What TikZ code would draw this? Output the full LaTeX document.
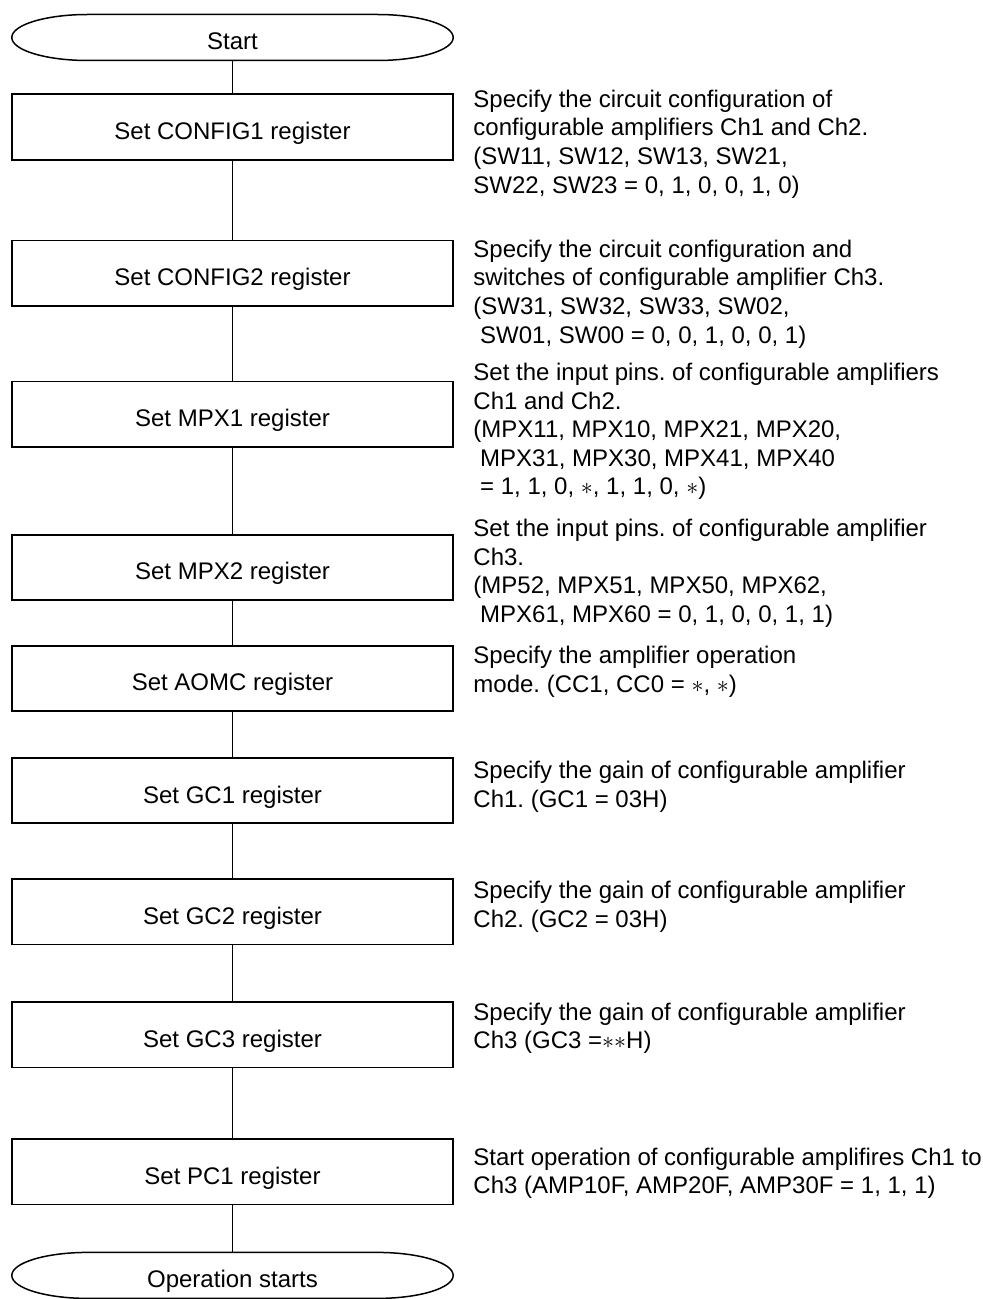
\documentclass[tikz,border=0pt]{standalone}
\usepackage{fontspec}
\setmainfont{Liberation Sans}
\usetikzlibrary{positioning}

\newcommand{\ind}{\hspace*{0.28em}}
\frenchspacing

\begin{document}
\begin{tikzpicture}[
    every node/.style={font=\fontsize{12pt}{14.3pt}\selectfont},
    regbox/.style={rectangle, draw=black, line width=0.85pt, minimum width=220.7pt, minimum height=32.7pt, text height=12.5pt, text depth=0pt},
    term/.style={rectangle, outer sep=0pt, minimum width=220.7pt, minimum height=23pt, text height=12.5pt, text depth=0pt},
    termline/.style={line width=0.75pt},
    note/.style={align=left, inner sep=0pt, anchor=north west},
    link/.style={line width=0.65pt}
]
\useasboundingbox (0,0) rectangle (491.5pt,-649.5pt);

\node[term] (start) at (116.25pt,-18.75pt) {Start};
\node[regbox, below=16.5pt of start] (cfg1) {Set CONFIG1 register};
\node[regbox, below=39.5pt of cfg1] (cfg2) {Set CONFIG2 register};
\node[regbox, below=37pt of cfg2] (mpx1) {Set MPX1 register};
\node[regbox, below=43pt of mpx1] (mpx2) {Set MPX2 register};
\node[regbox, below=22pt of mpx2] (aomc) {Set AOMC register};
\node[regbox, below=22.5pt of aomc] (gc1) {Set GC1 register};
\node[regbox, below=27pt of gc1] (gc2) {Set GC2 register};
\node[regbox, below=28pt of gc2] (gc3) {Set GC3 register};
\node[regbox, below=35pt of gc3] (pc1) {Set PC1 register};
\node[term, below=23.5pt of pc1] (stop) {Operation starts};

% terminal outlines
\foreach \t in {start, stop}
  \draw[termline] ([xshift=38pt]\t.north west) -- ([xshift=-38pt]\t.north east)
    arc[start angle=90, end angle=-90, x radius=38pt, y radius=11.5pt]
    -- ([xshift=38pt]\t.south west)
    arc[start angle=270, end angle=90, x radius=38pt, y radius=11.5pt] -- cycle;

\foreach \a/\b in {start/cfg1, cfg1/cfg2, cfg2/mpx1, mpx1/mpx2, mpx2/aomc, aomc/gc1, gc1/gc2, gc2/gc3, gc3/pc1, pc1/stop}
  \draw[link] (\a) -- (\b);

% notes
\node[right=9.5pt of cfg1.north east, note, yshift=2pt] (cfg1note) {Specify the circuit configuration of\\configurable amplifiers Ch1 and Ch2.\\(SW11, SW12, SW13, SW21,\\SW22, SW23 = 0, 1, 0, 0, 1, 0)};
\node[right=9.5pt of cfg2.north east, note] (cfg2note) {Specify the circuit configuration and\\switches of configurable amplifier Ch3.\\(SW31, SW32, SW33, SW02,\\\ind SW01, SW00 = 0, 0, 1, 0, 0, 1)};
\node[right=9.5pt of mpx1.north east, note, yshift=9pt] (mpx1note) {Set the input pins. of configurable amplifiers\\Ch1 and Ch2.\\(MPX11, MPX10, MPX21, MPX20,\\\ind MPX31, MPX30, MPX41, MPX40\\\ind = 1, 1, 0, $\ast$, 1, 1, 0, $\ast$)};
\node[right=9.5pt of mpx2.north east, note, yshift=7.5pt] (mpx2note) {Set the input pins. of configurable amplifier\\Ch3.\\(MP52, MPX51, MPX50, MPX62,\\\ind MPX61, MPX60 = 0, 1, 0, 0, 1, 1)};
\node[right=9.5pt of aomc.north east, note, yshift=-0.5pt] (aomcnote) {Specify the amplifier operation\\mode. (CC1, CC0 = $\ast$, $\ast$)};
\node[right=9.5pt of gc1.north east, note, yshift=-2pt] (gc1note) {Specify the gain of configurable amplifier\\Ch1. (GC1 = 03H)};
\node[right=9.5pt of gc2.north east, note, yshift=-1.5pt] (gc2note) {Specify the gain of configurable amplifier\\Ch2. (GC2 = 03H)};
\node[right=9.5pt of gc3.north east, note, yshift=-0.5pt] (gc3note) {Specify the gain of configurable amplifier\\Ch3 (GC3 =$\ast\ast$H)};
\node[right=9.5pt of pc1.north east, note, yshift=-4.5pt] (pc1note) {Start operation of configurable amplifires Ch1 to\\Ch3 (AMP10F, AMP20F, AMP30F = 1, 1, 1)};

\end{tikzpicture}
\end{document}
